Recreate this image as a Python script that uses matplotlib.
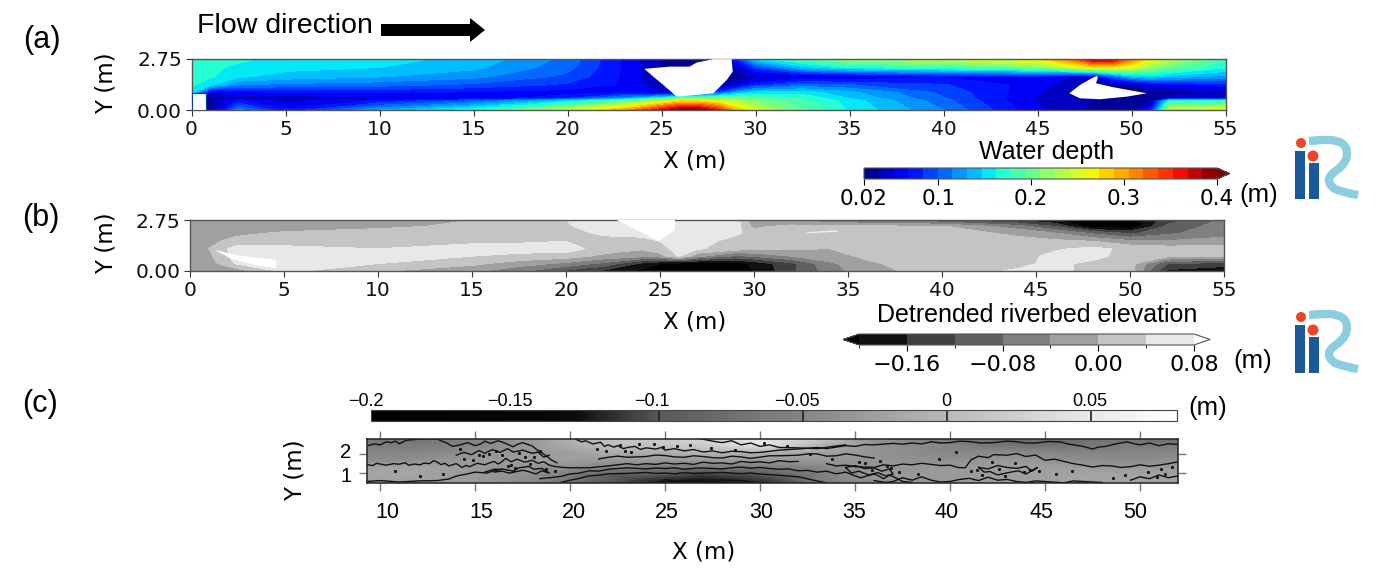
import numpy as np
import matplotlib
matplotlib.use("Agg")
import matplotlib.pyplot as plt
from matplotlib.colors import LinearSegmentedColormap, ListedColormap, BoundaryNorm, Normalize
from matplotlib.cm import ScalarMappable
from matplotlib.patches import Polygon, Rectangle, Circle, PathPatch
from matplotlib.path import Path

W, H = 1380, 580
sans = "Liberation Sans"

# panel (a) water depth (rows top to bottom)
depth_x = [0, 1, 2.5, 5, 10, 15, 20, 23, 25, 26, 27, 28, 29, 30, 32.5, 35, 40, 45, 47, 48, 49, 50, 51, 52, 55]
depth_y = [2.75, 2.3, 1.8, 1.35, 0.95, 0.65, 0.5, 0]
depth = [
    [.165, .165, .165, .158, .152, .142, .11, .065, .035, .03, .03, .03, .08, .15, .19, .22, .24, .27, .33, .39, .38, .32, .27, .24, .18],
    [.165, .165, .16, .152, .147, .135, .105, .065, .035, .03, .03, .03, .04, .09, .14, .165, .18, .21, .25, .27, .27, .25, .22, .20, .165],
    [.165, .165, .15, .14, .132, .12, .095, .065, .035, .03, .03, .03, .03, .04, .05, .05, .065, .06, .05, .05, .10, .14, .15, .14, .125],
    [.165, .15, .115, .11, .105, .095, .08, .065, .04, .03, .03, .03, .05, .08, .105, .10, .085, .06, .035, .03, .03, .03, .05, .06, .075],
    [.16, .05, .06, .07, .07, .065, .06, .065, .05, .03, .05, .09, .13, .15, .155, .135, .095, .055, .03, .03, .03, .03, .03, .03, .04],
    [.05, .03, .045, .04, .045, .055, .08, .12, .16, .19, .20, .20, .20, .19, .175, .145, .10, .05, .035, .03, .03, .03, .03, .04, .05],
    [.05, .03, .07, .045, .07, .10, .15, .19, .24, .27, .27, .25, .23, .21, .185, .155, .105, .05, .04, .035, .03, .03, .03, .165, .17],
    [.05, .03, .12, .07, .13, .17, .24, .30, .37, .40, .40, .36, .29, .25, .195, .16, .115, .055, .04, .03, .03, .03, .07, .24, .26],
]
island1_x = [24.09, 25.45, 26.5, 26.87, 27.76, 28.73, 28.79, 28.47, 27.76, 26.87, 25.81, 25.1, 24.56]
island1_y = [2.22, 2.34, 2.34, 2.56, 2.74, 2.74, 2.07, 1.62, 0.9, 0.81, 0.72, 1.35, 1.8]
island2_x = [46.69, 47.26, 47.88, 48.15, 48.22, 48.11, 49.02, 50.81, 49.74, 48.32, 47.26]
island2_y = [0.9, 1.35, 1.71, 1.84, 1.77, 1.44, 1.23, 0.9, 0.72, 0.58, 0.63]

# panel (b) detrended riverbed elevation
bed_x = [0, 1, 2.5, 5, 10, 15, 17.5, 20, 22, 24, 25, 26, 27, 29, 30, 32, 34, 36, 40, 44, 46, 48, 50, 52, 55]
bed_y = [2.75, 2.4, 2.05, 1.6, 1.2, 0.8, 0.4, 0]
bed = [
    [-.02, -.02, -.02, -.02, -.02, 0, .02, .04, .07, .075, .075, .075, .075, .065, -.04, -.05, -.07, -.09, -.12, -.17, -.2, -.26, -.23, -.14, -.07],
    [-.02, -.02, -.02, -.02, -.01, .01, .02, .035, .06, .07, .075, .075, .07, .06, -.01, .015, .015, .01, .005, -.06, -.12, -.22, -.23, -.11, -.06],
    [-.02, -.02, -.01, .005, .02, .02, .02, .02, .05, .05, .055, .07, .07, .05, .02, .02, .02, .02, .02, -.01, -.04, -.09, -.13, -.09, -.05],
    [-.02, -.01, .015, .025, .03, .035, .035, .04, .02, .03, .04, .06, .06, .02, .015, .015, .015, .02, .02, .015, .01, 0, -.03, -.035, -.03],
    [-.02, 0, .06, .05, .04, .05, .055, .06, .02, .005, .03, .05, .045, .02, .01, .005, 0, .015, .02, .02, .035, .05, .03, .02, .02],
    [-.02, -.01, .06, .06, .055, .04, .03, .02, -.01, -.03, -.02, .042, -.03, -.09, -.075, -.04, -.01, .005, .02, .025, .05, .055, .02, .01, .01],
    [-.02, -.02, .045, .05, .04, .01, -.02, -.05, -.09, -.17, -.20, -.22, -.23, -.22, -.19, -.13, -.05, -.005, .02, .03, .05, .03, .02, -.12, -.14],
    [-.02, -.02, -.02, .05, .005, -.03, -.07, -.13, -.17, -.21, -.24, -.25, -.25, -.24, -.2, -.13, -.06, -.015, .02, .045, .05, .03, .02, -.17, -.19],
]
bed_greys = ["#101010", "#404040", "#606060", "#808080", "#a0a0a0", "#c4c4c4", "#e8e8e8"]
# small light patches too thin for the grid above
white_patches = [
    ([1.3, 2.5, 4.6, 4.6, 3.3, 2.2], [1.15, 0.85, 0.6, 0.15, 0.35, 0.65]),
    ([22.7, 25.8, 25.8, 24.9, 24.3], [2.75, 2.75, 2.2, 1.6, 1.93]),
]
streak_x = [32.7, 34.5, 34.4, 32.9]
streak_y = [2.02, 2.12, 2.2, 2.1]

# panel (c) measured bed, background greys
meas_x = [9.3, 12, 15, 18, 20, 22, 25, 27, 30, 33, 36, 40, 43, 46, 49, 52]
meas_y = [2.84, 2.5, 2.1, 1.7, 1.3, 0.9, 0.47]
meas = [
    [-.07, -.07, -.05, -.03, -.01, .01, .02, .03, .05, .02, -.04, -.07, -.08, -.08, -.07, -.08],
    [-.06, -.06, -.05, -.03, -.01, .005, .015, .02, .05, 0, -.035, -.05, -.07, -.07, -.06, -.06],
    [-.05, -.05, -.04, -.03, -.025, -.01, -.01, 0, -.005, -.02, -.035, -.05, -.045, -.05, -.05, -.05],
    [-.045, -.04, -.03, -.025, -.025, -.03, -.03, -.03, -.03, -.03, -.035, -.04, -.03, -.04, -.045, -.04],
    [-.02, -.02, -.03, -.035, -.04, -.05, -.06, -.06, -.06, -.05, -.035, -.03, -.025, -.025, -.03, -.03],
    [-.02, -.02, -.03, -.04, -.06, -.09, -.10, -.11, -.10, -.06, -.03, -.03, -.025, -.02, -.02, -.02],
    [-.02, -.025, -.03, -.045, -.07, -.10, -.13, -.16, -.12, -.06, -.04, -.03, -.025, -.02, -.02, -.025],
]
meas_stops = [-.2, -.13, -.1, -.05, 0, .05, .08]
meas_stop_greys = ["#000000", "#0a0a0a", "#585858", "#858585", "#b8b8b8", "#e8e8e8", "#ffffff"]
meas_ticks = [-.2, -.15, -.1, -.05, 0, .05]
meas_tick_labels = ["\u22120.2", "\u22120.15", "\u22120.1", "\u22120.05", "0", "0.05"]
meas_tick_label_px = [366, 510, 652, 797, 946, 1090]

# hand traced contour lines of panel (c), metres
contours = [
    ([9.3, 9.6, 9.8, 10.1, 10.3, 10.7, 11, 11.3, 11.5, 11.8, 12.1, 12.3, 12.6, 12.8, 13, 13.2, 13.4, 13.6, 13.8, 14, 14.3, 14.5, 14.7, 15.1, 15.5, 15.8, 16, 16.2, 16.4, 16.6, 16.9, 17.2, 17.6, 18, 18.3, 18.6, 18.9, 19.2, 19.6, 20, 21, 22, 23, 23.5, 24, 24.5, 25, 25.5, 26, 26.5, 27, 27.5, 28, 28.5, 29, 29.5, 30, 30.5, 31, 31.5, 32],
     [1.45, 1.4, 1.52, 1.46, 1.42, 1.5, 1.47, 1.55, 1.42, 1.48, 1.44, 1.53, 1.5, 1.66, 1.58, 1.45, 1.52, 1.38, 1.44, 1.5, 1.3, 1.4, 1.34, 1.52, 1.44, 1.56, 1.62, 1.48, 1.6, 1.78, 1.6, 1.74, 1.58, 1.68, 1.52, 1.6, 1.42, 1.35, 1.3, 1.28, 1.28, 1.38, 1.5, 1.44, 1.5, 1.46, 1.54, 1.48, 1.52, 1.46, 1.58, 1.52, 1.54, 1.48, 1.62, 1.56, 1.6, 1.54, 1.66, 1.6, 1.62]),
    ([9.3, 9.7, 10, 10.3, 10.6, 10.8, 11, 11.4, 12, 12.5, 13, 13.5, 13.8, 14.2, 14.6, 15, 15.3, 15.5, 15.8, 16.2, 16.5, 17, 17.2, 17.5, 18, 18.3, 18.7, 19, 19.3],
     [2.45, 2.55, 2.5, 2.66, 2.62, 2.7, 2.56, 2.75, 2.8, 2.84, 2.8, 2.6, 2.42, 2.5, 2.62, 2.46, 2.55, 2.7, 2.58, 2.72, 2.62, 2.4, 2.52, 2.62, 2.44, 2.2, 1.95, 1.7, 1.55]),
    ([20.3, 20.6, 20.8, 21.2, 21.6, 21.8, 22, 22.3, 22.5, 22.8, 23, 23.4, 23.7, 24, 24.5, 24.8, 25, 25.5, 26, 26.5, 27, 27.5, 28, 28.5, 29, 29.5, 30, 30.5, 31, 32, 33, 33.5, 34, 34.5, 35, 35.5, 36, 37, 37.5, 38, 38.5, 39],
     [2.8, 2.66, 2.72, 2.55, 2.64, 2.42, 2.5, 2.38, 2.46, 2.3, 2.36, 2.42, 2.26, 2.34, 2.28, 2.36, 2.22, 2.3, 2.18, 2.25, 2.12, 2.18, 2.08, 2.16, 2.14, 2.08, 2.1, 2.16, 2.22, 2.28, 2.36, 2.3, 2.38, 2.46, 2.42, 2.52, 2.5, 2.58, 2.54, 2.6, 2.55, 2.66]),
    ([18.4, 19, 19.5, 20, 20.5, 21, 21.5, 22, 22.5, 23, 24, 24.5, 25, 25.5, 26, 26.5, 27, 28, 28.5, 29, 29.5, 30, 30.5, 31, 31.5, 32, 32.5, 33, 33.5, 34, 34.5, 35, 35.3, 36, 36.3, 36.5, 36.8, 37, 37.3, 37.5, 38],
     [0.7, 0.76, 0.82, 0.95, 1.0, 1.12, 1.1, 1.2, 1.24, 1.28, 1.22, 1.27, 1.24, 1.28, 1.2, 1.25, 1.27, 1.22, 1.28, 1.32, 1.26, 1.3, 1.24, 1.2, 1.22, 1.12, 1.14, 1.05, 1.1, 0.96, 1.05, 0.85, 0.75, 0.95, 0.82, 0.7, 0.88, 0.82, 0.66, 0.55, 0.5]),
    ([19.5, 20, 20.5, 21, 21.5, 22, 23, 24, 24.5, 25, 25.5, 26, 26.5, 27, 28, 29, 29.5, 30, 31, 32, 33, 33.5],
     [0.5, 0.62, 0.72, 0.85, 0.88, 0.96, 0.98, 1.03, 0.98, 1.0, 0.96, 1.02, 0.98, 1.0, 1.03, 0.97, 1.0, 0.95, 0.88, 0.8, 0.58, 0.47]),
    ([24.6, 25, 25.5, 26, 27, 28, 29, 29.6, 30],
     [0.47, 0.66, 0.55, 0.6, 0.62, 0.63, 0.6, 0.52, 0.47]),
    ([21.5, 22, 22.5, 23, 24, 24.5, 25, 25.5, 26, 26.5, 27, 27.5, 28, 28.5, 29, 29.5, 30, 30.5, 31, 32, 32.5, 33, 33.5, 34, 34.5, 35, 35.5, 36],
     [1.75, 1.84, 1.9, 1.84, 1.88, 1.96, 1.93, 1.86, 1.84, 1.92, 1.88, 1.82, 1.8, 1.9, 1.86, 1.78, 1.85, 1.92, 1.92, 1.95, 2.02, 2.02, 1.9, 1.92, 2.02, 1.96, 1.86, 1.8]),
    ([26.8, 27.5, 28, 28.5, 29, 29.5, 30, 30.5, 31, 32, 33, 34, 34.5],
     [2.84, 2.7, 2.62, 2.72, 2.5, 2.6, 2.42, 2.5, 2.36, 2.34, 2.3, 2.44, 2.5]),
    ([39, 39.5, 40, 40.5, 41, 41.6, 42.3, 43, 43.5, 44, 44.5, 45.2, 45.8, 46.2, 46.5, 47, 47.5, 47.8, 48.2, 48.7, 49.3, 49.7, 50, 50.5, 51, 51.5, 52],
     [2.67, 2.6, 2.62, 2.7, 2.68, 2.6, 2.62, 2.7, 2.67, 2.6, 2.6, 2.68, 2.66, 2.55, 2.5, 2.42, 2.28, 2.38, 2.42, 2.55, 2.66, 2.56, 2.5, 2.6, 2.46, 2.56, 2.52]),
    ([33.5, 34, 34.5, 35, 36, 36.5, 37, 37.5, 38, 38.5, 39, 39.5, 40, 40.4, 40.8, 41.1, 41.5, 42, 42.3, 43, 43.5, 44, 44.5, 45, 45.5, 46, 46.5, 47, 47.5, 48, 48.5, 49, 49.5, 50, 50.5, 51, 51.5, 52],
     [1.5, 1.38, 1.42, 1.34, 1.3, 1.44, 1.38, 1.48, 1.44, 1.52, 1.46, 1.4, 1.42, 1.3, 1.28, 1.7, 1.9, 1.82, 1.98, 1.95, 2.04, 1.88, 1.96, 1.68, 1.74, 1.62, 1.5, 1.42, 1.32, 1.4, 1.38, 1.3, 1.34, 1.44, 1.36, 1.42, 1.5, 1.6]),
    ([36, 36.6, 37, 37.5, 38, 38.5, 39, 39.5, 40, 40.5, 41, 41.5, 42, 42.5, 43, 43.5, 44, 44.5, 45, 46, 46.5, 47, 48],
     [0.6, 0.5, 0.55, 0.75, 0.62, 0.8, 0.62, 0.52, 0.55, 0.66, 0.72, 0.6, 0.78, 0.62, 0.66, 0.55, 0.5, 0.58, 0.55, 0.48, 0.58, 0.55, 0.5]),
    ([41.5, 42, 42.5, 43, 43.5, 44, 44.3, 44.6, 44, 43.6, 43.2, 42.5, 42.1, 41.8, 41.5],
     [1.3, 1.22, 1.4, 1.3, 1.25, 1.35, 1.1, 1.3, 0.95, 1.12, 1.05, 0.9, 1.08, 1.05, 1.3]),
    ([15.5, 16, 16.5, 17, 17.3, 17.8, 18.1, 18.5, 18.9, 18.5, 18.2, 17.8, 17.5, 16.8, 16.4, 16],
     [1.05, 1.2, 1.2, 1.1, 1.28, 1.35, 1.2, 1.25, 1.0, 1.12, 0.95, 1.08, 1.15, 1.0, 1.1, 1.05]),
    ([34.5, 35, 35.5, 36, 36.4, 36.8, 37, 36.6, 36.2, 35.7, 35.2, 34.8, 34.5],
     [1.3, 1.4, 1.24, 1.28, 1.1, 1.22, 0.95, 0.85, 1.02, 0.9, 1.1, 1.0, 1.3]),
    ([14, 14.4, 14.8, 15.2, 15.5, 15.9, 16.3, 16.7, 17, 17.5, 18, 18.3, 18.6, 18.9],
     [1.95, 2.1, 1.98, 2.2, 2.05, 2.25, 2.1, 2.3, 2.12, 2.22, 2.05, 2.12, 1.85, 1.95]),
    ([9.3, 10, 11, 12, 13, 13.6, 14, 14.6, 15, 15.6, 16, 16.4],
     [0.55, 0.6, 0.52, 0.58, 0.6, 0.68, 0.84, 0.96, 1.05, 1.0, 1.12, 1.2]),
    ([49.5, 50, 50.5, 51, 51.5, 52],
     [0.62, 0.8, 0.7, 0.9, 0.75, 0.85]),
]
speck_x = [10.8, 12.1, 13.3, 14.4, 15.2, 16.1, 16.7, 17.3, 17.9, 18.4, 14.9, 15.7, 17.1, 18.1, 21.4, 22.6, 23.2, 24.4, 25.6, 26.3, 27.4, 28.7, 30.2, 31.4, 32.6, 33.8, 35.2, 35.9, 36.9, 37.3, 38.3, 39.4, 40.3, 41.1, 41.7, 42.2, 42.9, 44.7, 45.6, 46.4, 48.6, 49.2, 50.4, 51.3, 51.7, 14.2, 15.4, 16.4, 16.9, 17.6, 18.7, 19.2, 21.9, 22.9, 23.6, 24.9, 35.5, 36.3, 36.7, 41.4, 42.6, 43.4, 43.9, 44.2, 50.9, 51.1]
speck_y = [1.1, 0.85, 0.95, 1.75, 1.95, 2.2, 1.35, 2.05, 1.5, 2.15, 1.72, 2.0, 1.25, 1.85, 2.3, 2.5, 2.12, 2.55, 2.42, 2.5, 2.35, 2.25, 2.6, 2.45, 2.0, 1.75, 1.6, 1.15, 1.25, 1.05, 0.95, 1.75, 2.1, 1.1, 0.9, 1.6, 0.85, 1.12, 0.95, 1.1, 0.72, 0.88, 1.05, 0.95, 1.3, 2.3, 1.9, 1.95, 1.45, 1.88, 1.2, 1.1, 2.2, 2.2, 2.55, 2.4, 1.52, 1.62, 1.35, 1.15, 1.22, 1.52, 1.08, 1.18, 0.8, 1.2]

x_ticks = [0, 5, 10, 15, 20, 25, 30, 35, 40, 45, 50, 55]
c_x_ticks = [10, 15, 20, 25, 30, 35, 40, 45, 50]
c_x_label_px = [387, 481, 574, 667, 761, 854, 947, 1041, 1135]


def px_axes(left, top, right, bottom):
    return fig.add_axes([left / W, 1 - bottom / H, (right - left) / W, (bottom - top) / H])


fig = plt.figure(figsize=(W / 100, H / 100), dpi=100)
overlay = fig.add_axes([0, 0, 1, 1], zorder=10)
overlay.set_xlim(0, W)
overlay.set_ylim(H, 0)
overlay.axis("off")
overlay.patch.set_alpha(0)


def label(x, y, s, size=18, family=sans, **kw):
    overlay.text(x, y, s, fontsize=size, family=family, ha="center", va="center", **kw)


# (a)
ax_a = px_axes(191.5, 59, 1225.5, 110)
levels = np.linspace(0.02, 0.40, 25)
cs = ax_a.contourf(depth_x, depth_y, np.array(depth), levels=levels, cmap="jet", extend="max")
for isl_x, isl_y in [(island1_x, island1_y), (island2_x, island2_y)]:
    ax_a.add_patch(Polygon(np.column_stack([isl_x, isl_y]), fc="white", ec="none", zorder=3))
ax_a.add_patch(Rectangle((0, 0), 0.76, 0.93, fc="white", ec="#0a3a9a", lw=0.8, zorder=3))
ax_a.set_xlim(0, 55)
ax_a.set_ylim(0, 2.75)

# (b)
ax_b = px_axes(190, 220, 1224, 271)
bed_levels = [-.2, -.16, -.12, -.08, -.04, 0, .04, .08]
bed_cmap = ListedColormap(bed_greys)
bed_cmap.set_under("black")
bed_cmap.set_over("white")
bed_norm = BoundaryNorm(bed_levels, bed_cmap.N)
cs_b = ax_b.contourf(bed_x, bed_y, np.array(bed), levels=bed_levels, cmap=bed_cmap, norm=bed_norm, extend="both")
for px, py in white_patches:
    ax_b.add_patch(Polygon(np.column_stack([px, py]), fc="white", ec="none", zorder=3))
ax_b.add_patch(Polygon(np.column_stack([streak_x, streak_y]), fc="#f0f0f0", ec="none", zorder=3))
ax_b.set_xlim(0, 55)
ax_b.set_ylim(0, 2.75)

for ax in (ax_a, ax_b):
    ax.set_xticks(x_ticks)
    ax.set_yticks([0, 2.75])
    ax.set_yticklabels(["0.00", "2.75"])
    ax.tick_params(labelsize=14.5, length=4, width=0.8, color="#333333", pad=3, labelcolor="#111111")
    for s in ax.spines.values():
        s.set_color("#555555")
        s.set_linewidth(1.0)

# colorbars, the axes hold the pointed ends too
cax_a = px_axes(864, 168, 1230, 179)
cb_a = fig.colorbar(cs, cax=cax_a, orientation="horizontal", extendfrac=0.037, spacing="proportional")
cb_a.set_ticks([0.02, 0.1, 0.2, 0.3, 0.4], labels=["0.02", "0.1", "0.2", "0.3", "0.4"])
cb_a.ax.tick_params(labelsize=15.5, length=4, width=0.8, pad=3)
cb_a.outline.set_edgecolor("#555555")

cax_b = px_axes(843, 334, 1210, 345)
cb_b = fig.colorbar(cs_b, cax=cax_b, orientation="horizontal", extendfrac=0.048, spacing="proportional")
cb_b.set_ticks([-.16, -.08, 0, .08], labels=["\u22120.16", "\u22120.08", "0.00", "0.08"])
cb_b.ax.tick_params(labelsize=16, length=4, width=0.8, pad=3)
cb_b.outline.set_edgecolor("#555555")

# (c)
ax_c = px_axes(367, 438.5, 1178, 483)
meas_cmap = LinearSegmentedColormap.from_list(
    "meas", [((v - meas_stops[0]) / (meas_stops[-1] - meas_stops[0]), c) for v, c in zip(meas_stops, meas_stop_greys)])
meas_norm = Normalize(meas_stops[0], meas_stops[-1])
ax_c.pcolormesh(meas_x, meas_y, np.array(meas), cmap=meas_cmap, norm=meas_norm, shading="gouraud")
for line_x, line_y in contours:
    ax_c.plot(line_x, line_y, color="#111111", lw=1.0)
ax_c.plot(speck_x, speck_y, ls="none", marker="s", ms=1.1, color="#111111")
ax_c.set_xlim(9.3, 52)
ax_c.set_ylim(0.47, 2.84)
ax_c.set_xticks(c_x_ticks)
ax_c.set_yticks([1, 2])
ax_c.tick_params(top=True, right=True, direction="out", length=6, width=1, color="#777777",
                 labelbottom=False, labelleft=False)
for s in ax_c.spines.values():
    s.set_color("#222222")
    s.set_linewidth(1.1)

cax_c = px_axes(371, 410, 1177, 421)
cb_c = fig.colorbar(ScalarMappable(norm=meas_norm, cmap=meas_cmap), cax=cax_c, orientation="horizontal")
cb_c.set_ticks(meas_ticks, labels=[""] * len(meas_ticks))
cb_c.ax.tick_params(length=0)
for v in meas_ticks[2:]:
    cb_c.ax.axvline(v, color="#222222", lw=1.2)
cb_c.outline.set_edgecolor("#444444")
for px, s in zip(meas_tick_label_px, meas_tick_labels):
    label(px, 401, s, size=13)
for px, v in zip(c_x_label_px, c_x_ticks):
    label(px, 512, str(v), size=15.5)
label(346, 453, "2", size=14.5)
label(346, 477, "1", size=14.5)

# texts and arrow
label(42, 40, "(a)", size=22)
label(41, 218, "(b)", size=22)
label(40, 404, "(c)", size=22)
label(285, 26, "Flow direction", size=20.5)
overlay.add_patch(Polygon([(381, 24), (470, 24), (470, 18), (485, 30), (470, 42), (470, 36), (381, 36)],
                          fc="black", ec="none"))
label(1047, 152, "Water depth", size=18)
label(1037, 315, "Detrended riverbed elevation", size=18)
label(1259, 195, "(m)", size=18.5)
label(1253, 361, "(m)", size=18.5)
label(1208, 408, "(m)", size=18.5)
for cx, cy in [(695, 161), (695, 322), (704, 552)]:
    label(cx, cy, "X (m)", size=16.5, family="DejaVu Sans")
for cx, cy in [(106, 83), (106, 243), (295, 470)]:
    label(cx, cy, "Y (m)", size=16.5, family="DejaVu Sans", rotation=90)

# logos
for dy in (0, 174):
    overlay.add_patch(Rectangle((1295, 151 + dy), 10, 48, fc="#1a5a9a", ec="none"))
    overlay.add_patch(Rectangle((1309, 163 + dy), 10, 36, fc="#1a5a9a", ec="none"))
    overlay.add_patch(Circle((1301, 143 + dy), 5, fc="#ee4423", ec="none"))
    overlay.add_patch(Circle((1313, 156 + dy), 5.5, fc="#ee4423", ec="none"))
    verts = [(1309, 141 + dy), (1322, 140 + dy), (1330, 140 + dy),
             (1346, 141 + dy), (1347, 152 + dy),
             (1348, 162 + dy), (1337, 170 + dy),
             (1322, 180 + dy), (1335, 189 + dy),
             (1345, 193 + dy), (1358, 195 + dy)]
    codes = [Path.MOVETO, Path.LINETO, Path.LINETO, Path.CURVE3, Path.CURVE3, Path.CURVE3, Path.CURVE3,
             Path.CURVE3, Path.CURVE3, Path.CURVE3, Path.CURVE3]
    overlay.add_patch(PathPatch(Path(verts, codes), fc="none", ec="#8ccde0", lw=6, capstyle="butt"))

plt.savefig("out.png", dpi=100)
